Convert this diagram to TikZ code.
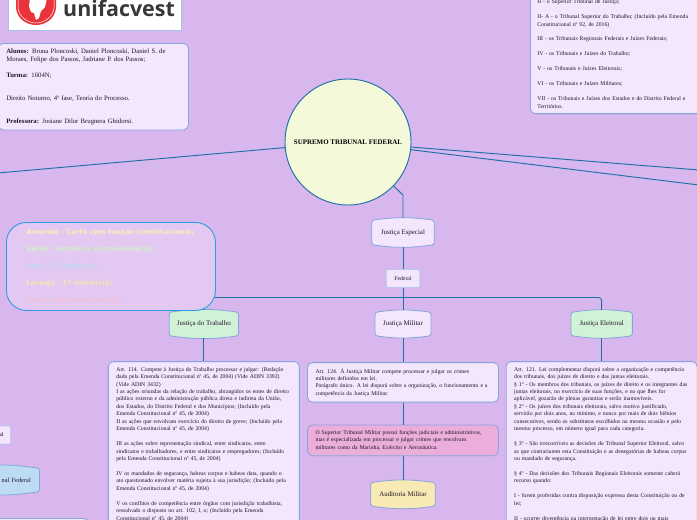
\documentclass[tikz,border=0pt]{standalone}
\usepackage{fontspec}
\setmainfont{Liberation Serif}
\newfontfamily\legendfont{DejaVu Sans}
\newfontfamily\logofont{Open Sans}
\usepackage{tikz}
\usetikzlibrary{positioning, backgrounds, shapes.geometric}
\definecolor{pagebg}{HTML}{D8B6EE}
\definecolor{linkblue}{HTML}{2070A8}
\definecolor{edgeblue}{HTML}{84A6DC}
\definecolor{lilacfill}{HTML}{F4E6FD}
\definecolor{greenfill}{HTML}{D2F2D8}
\definecolor{bluefill}{HTML}{BDDCF3}
\definecolor{yellowfill}{HTML}{F8EAB4}
\definecolor{pinkfill}{HTML}{EBAEDB}
\definecolor{corefill}{HTML}{F3F9D9}
\definecolor{inktext}{HTML}{1E1628}
\definecolor{logored}{HTML}{E8343A}
\definecolor{legendfill}{HTML}{E3C9F1}
\definecolor{legendedge}{HTML}{2E9BE6}
\newcommand{\blankline}{\\[7.45pt]}
\newcommand{\blanktwo}{\\[15pt]}

\begin{document}
\begin{tikzpicture}[x=1pt, y=-1pt,
  conn/.style={color=linkblue, line width=0.95pt},
  textbox/.style={rectangle, rounded corners=5pt, draw=edgeblue, line width=0.8pt, fill=lilacfill,
    text=inktext, align=left, text width=175pt, inner xsep=8pt, inner ysep=5.5pt,
    font=\fontsize{5.75}{7.45}\selectfont},
  smallbox/.style={rectangle, rounded corners=1.5pt, draw=edgeblue!60, line width=0.6pt, fill=lilacfill,
    text=inktext, minimum height=18pt, font=\fontsize{5.75}{7.45}\selectfont},
  barrel/.style={rectangle, minimum height=28pt, inner sep=0pt, text=inktext,
    font=\fontsize{6.9}{7.45}\selectfont,
    append after command={\pgfextra{\begin{pgfonlayer}{background}
      \draw[draw=edgeblue, line width=0.8pt, fill=#1, rounded corners=2.5pt]
        ([yshift=-2.5pt]\tikzlastnode.north west) to[bend left=8] ([yshift=-2.5pt]\tikzlastnode.north east)
        -- ([yshift=2.5pt]\tikzlastnode.south east) to[bend left=8] ([yshift=2.5pt]\tikzlastnode.south west)
        -- cycle;
      \end{pgfonlayer}}}}]

  \useasboundingbox (0,0) rectangle (697,520);
  \begin{scope}[on background layer]
    \fill[pagebg] (0,0) rectangle (697,520);
  \end{scope}
  \clip (0,0) rectangle (697,520);

  % logo
  \node[rectangle, draw=edgeblue!70, line width=0.6pt, fill=white, anchor=south west,
    minimum width=173pt, minimum height=50pt] (logobox) at (8,31) {};
  \fill[logored] (16,-2) -- (16,8) .. controls (17,19) and (27,25) .. (36,25)
    .. controls (45,25) and (55,19) .. (56,8) -- (56,-2) -- cycle;
  \draw[white, line width=0.5pt] (18,-2) -- (18,8) .. controls (19,17) and (28,23) .. (36,23)
    .. controls (44,23) and (53,17) .. (54,8) -- (54,-2);
  \fill[white] (30,-2) -- (29,6) -- (31,12) -- (34,13) -- (36,20) -- (39,18) -- (41,11) -- (45,7) -- (47,-2) -- cycle;
  \node[anchor=base west, inner sep=0pt, text=black!78, font=\logofont\bfseries\fontsize{21.4}{22}\selectfont]
    (logotext) at (63,16.5) {unifacvest};

  % links to the centre
  \coordinate (leftend) at (-2,173);
  \coordinate (rightupper) at (699,170);
  \coordinate (rightlower) at (699,185);
  \coordinate (bendcore) at (403,195);
  \coordinate (busjoin) at (403,297.5);

  \node[circle, draw=linkblue, line width=0.95pt, fill=corefill, minimum size=126pt, inner sep=0pt,
    font=\bfseries\fontsize{6.95}{8}\selectfont, text=black] (core) at (348,142) {SUPREMO TRIBUNAL FEDERAL};

  \node[textbox, anchor=north west, text width=174pt, font=\fontsize{6.7}{8}\selectfont] (infobox) at (-2,43) {%
    \textbf{Alunos:} Bruna Ploncoski, Daniel Ploncoski, Daniel S. de\\
    Moraes, Felipe dos Passos, Jadriane P. dos Passos;\blankline
    \textbf{Turma:} 1604N;\blanktwo
    Direito Noturno, 4ª fase, Teoria do Processo.\blanktwo
    \textbf{Professora:} Josiane Dilor Brugnera Ghidorsi.};

  \node[textbox, anchor=south west, text width=165pt, inner xsep=7pt] (orgaosbox) at (530,114) {%
    II - o Superior Tribunal de Justiça;\blankline
    II- A - o Tribunal Superior do Trabalho; (Incluído pela Emenda\\
    Constitucional nº 92, de 2016)\blankline
    III - os Tribunais Regionais Federais e Juízes Federais;\blankline
    IV - os Tribunais e Juízes do Trabalho;\blankline
    V - os Tribunais e Juízes Eleitorais;\blankline
    VI - os Tribunais e Juízes Militares;\blankline
    VII - os Tribunais e Juízes dos Estados e do Distrito Federal e\\
    Territórios.};

  % central column
  \node[barrel=lilacfill, minimum width=62pt, minimum height=29pt] (especial) at (403,232.5) {Justiça Especial};
  \node[smallbox, minimum width=33.5pt, below=22pt of especial] (federal) {Federal};
  \node[barrel=lilacfill, minimum width=55.5pt, below=22pt of federal] (militar) {Justiça Militar};
  \node[barrel=greenfill, minimum width=69pt, left=136.5pt of militar] (trabalho) {Justiça do Trabalho};
  \node[barrel=greenfill, minimum width=61pt, right=140pt of militar] (eleitoral) {Justiça Eleitoral};

  \node[textbox, below=24pt of militar] (militarbox) {%
    Art. 124. À Justiça Militar compete processar e julgar os crimes\\
    militares definidos em lei.\\
    Parágrafo único. A lei disporá sobre a organização, o funcionamento e a\\
    competência da Justiça Militar.};
  \node[textbox, fill=pinkfill, below=22pt of militarbox] (stmbox) {%
    O Superior Tribunal Militar possui funções judiciais e administrativas,\\
    mas é especializada em processar e julgar crimes que envolvam\\
    militares como da Marinha, Exército e Aeronáutica.};
  \node[barrel=yellowfill, minimum width=64pt, below=24pt of stmbox] (auditoria) {Auditoria Militar};

  \node[textbox, below=23pt of trabalho] (trabalhobox) {%
    Art. 114. Compete à Justiça do Trabalho processar e julgar: (Redação\\
    dada pela Emenda Constitucional nº 45, de 2004) (Vide ADIN 3392)\\
    (Vide ADIN 3432)\\
    I as ações oriundas da relação de trabalho, abrangidos os entes de direito\\
    público externo e da administração pública direta e indireta da União,\\
    dos Estados, do Distrito Federal e dos Municípios; (Incluído pela\\
    Emenda Constitucional nº 45, de 2004)\\
    II as ações que envolvam exercício do direito de greve; (Incluído pela\\
    Emenda Constitucional nº 45, de 2004)\blankline
    III as ações sobre representação sindical, entre sindicatos, entre\\
    sindicatos e trabalhadores, e entre sindicatos e empregadores; (Incluído\\
    pela Emenda Constitucional nº 45, de 2004)\blankline
    IV os mandados de segurança, habeas corpus e habeas data, quando o\\
    ato questionado envolver matéria sujeita à sua jurisdição; (Incluído pela\\
    Emenda Constitucional nº 45, de 2004)\blankline
    V os conflitos de competência entre órgãos com jurisdição trabalhista,\\
    ressalvado o disposto no art. 102, I, o; (Incluído pela Emenda\\
    Constitucional nº 45, de 2004)};

  \node[textbox, below=23pt of eleitoral] (eleitoralbox) {%
    Art. 121. Lei complementar disporá sobre a organização e competência\\
    dos tribunais, dos juízes de direito e das juntas eleitorais.\\
    § 1º - Os membros dos tribunais, os juízes de direito e os integrantes das\\
    juntas eleitorais, no exercício de suas funções, e no que lhes for\\
    aplicável, gozarão de plenas garantias e serão inamovíveis.\\
    § 2º - Os juízes dos tribunais eleitorais, salvo motivo justificado,\\
    servirão por dois anos, no mínimo, e nunca por mais de dois biênios\\
    consecutivos, sendo os substitutos escolhidos na mesma ocasião e pelo\\
    mesmo processo, em número igual para cada categoria.\blankline
    § 3º - São irrecorríveis as decisões do Tribunal Superior Eleitoral, salvo\\
    as que contrariarem esta Constituição e as denegatórias de habeas corpus\\
    ou mandado de segurança.\blankline
    § 4º - Das decisões dos Tribunais Regionais Eleitorais somente caberá\\
    recurso quando:\blankline
    I - forem proferidas contra disposição expressa desta Constituição ou de\\
    lei;\blankline
    II - ocorrer divergência na interpretação de lei entre dois ou mais};

  % left edge, cut by the page
  \node[smallbox, anchor=east, minimum width=34pt, text width=26pt, align=right, inner xsep=7pt] (leftsmall) at (11,435) {al};
  \node[barrel=bluefill, anchor=east, minimum width=80pt, text width=63pt, align=right, font=\fontsize{6.4}{7.45}\selectfont] (tribunalfed) at (39.5,480) {nal Federal};
  \node[textbox, anchor=north east, minimum height=30pt, text width=175pt] (leftbottom) at (89,518) {};

  \draw[conn] (core) -- (leftend);
  \draw[conn] (core) -- (rightupper);
  \draw[conn] (core) -- (rightlower);
  \draw[conn] (core) -- (bendcore) -- (especial);
  \draw[conn] (especial) -- (federal);
  \draw[conn] (federal) -- (militar);
  \draw[conn, rounded corners=3pt] (trabalho.north) |- (busjoin) -| (eleitoral.north);
  \draw[conn] (trabalho) -- (trabalhobox);
  \draw[conn] (militar) -- (militarbox);
  \draw[conn] (militarbox) -- (stmbox);
  \draw[conn] (stmbox) -- (auditoria);
  \draw[conn] (eleitoral) -- (eleitoralbox);

  % colour legend
  \node[rectangle, rounded corners=20pt, draw=legendedge, line width=0.9pt, fill=legendfill,
    anchor=north west, text width=169pt, inner xsep=20pt, minimum height=88pt, align=left,
    font=\legendfont\bfseries\fontsize{6.9}{16.9}\selectfont] (legend) at (6,222) {%
    \textcolor[HTML]{F5F0B5}{Amarelo - Corte com função constitucional;}\\
    \textcolor[HTML]{CFEFC8}{Verde - Instância extraordinária;}\\
    \textcolor[HTML]{BFD8F0}{Azul - 2ª instância;}\\
    \textcolor[HTML]{F8E4B0}{Laranja - 1ª instância;}\\
    \textcolor[HTML]{F4BEDD}{Rosa - Equivalem ao STJ;}};
\end{tikzpicture}
\end{document}
